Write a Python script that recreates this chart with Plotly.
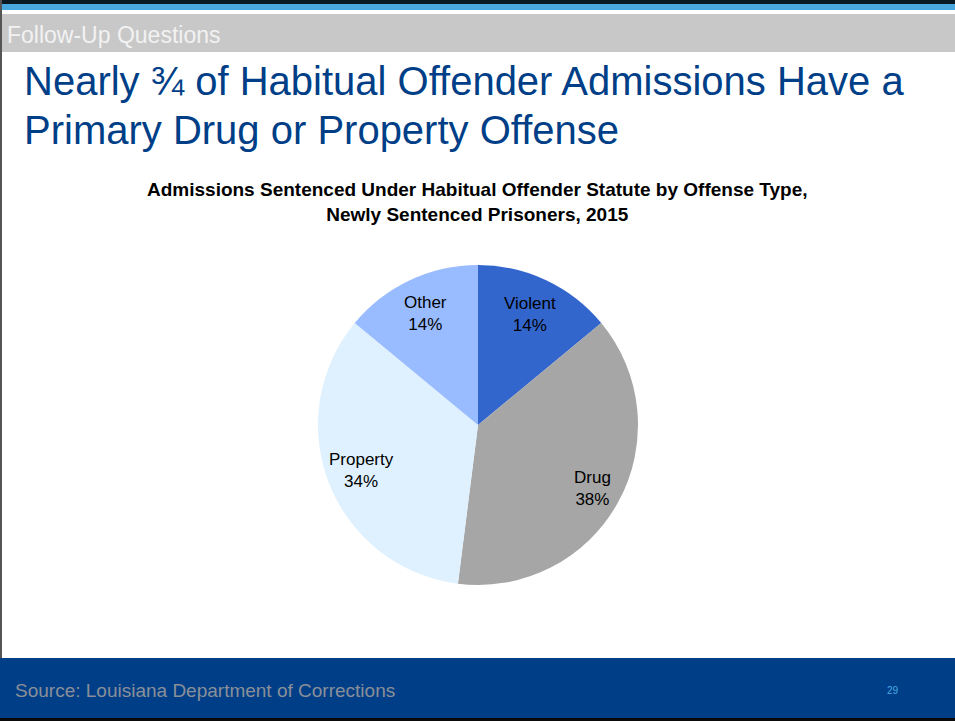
import math
import plotly.graph_objects as go

# Offense categories and their shares of habitual-offender admissions (percent)
categories = ["Violent", "Drug", "Property", "Other"]
shares = [14, 38, 34, 14]
slice_colors = ["#3366cc", "#a6a6a6", "#dff1fe", "#99bbff"]
# radial placement of each slice label, as a fraction of the radius
label_fracs = [0.76, 0.82, 0.78, 0.77]

W, H = 955, 721
NAVY = "#003f87"

# Pie geometry in pixels
cx, cy, r = 478, 425, 160

fig = go.Figure()
fig.add_trace(go.Pie(
    labels=categories,
    values=shares,
    sort=False,
    direction="clockwise",
    rotation=0,
    marker=dict(colors=slice_colors, line=dict(width=0)),
    textinfo="none",
    hoverinfo="label+percent",
    showlegend=False,
    domain=dict(x=[(cx - r) / W, (cx + r) / W],
                y=[1 - (cy + r) / H, 1 - (cy - r) / H]),
))

# Slice labels placed along each slice's mid-angle
total = sum(shares)
cum = 0
annotations = []
for name, v, frac in zip(categories, shares, label_fracs):
    mid = (cum + v / 2) / total * 2 * math.pi
    cum += v
    px = cx + frac * r * math.sin(mid)
    py = cy - frac * r * math.cos(mid)
    pct = round(v / total * 100)
    annotations.append(dict(
        x=px / W, y=1 - py / H, xref="paper", yref="paper",
        text=f"{name}<br>{pct}%", showarrow=False,
        font=dict(family="Liberation Sans, Arial", size=17, color="#000000"),
        align="center", xanchor="center", yanchor="middle",
    ))

def px_rect(x0, y0, x1, y1, color):
    return dict(type="rect", xref="paper", yref="paper",
                x0=x0 / W, x1=x1 / W, y0=1 - y1 / H, y1=1 - y0 / H,
                fillcolor=color, line=dict(width=0), layer="below")

shapes = [
    px_rect(0, 0, W, 4, "#0a1a24"),        # top dark rule
    px_rect(0, 4, W, 10, "#4aa8e0"),       # blue band
    px_rect(0, 14, W, 52, "#c8c8c8"),      # grey section header
    px_rect(0, 0, 2, 658, "#555555"),      # left border
    px_rect(0, 658, W, 718, NAVY),         # footer band
    px_rect(0, 718, W, H, "#0a0a0a"),      # bottom rule
]

def text_at(x, y, text, size, color, family, xanchor="left", yanchor="middle", align="left"):
    return dict(x=x / W, y=1 - y / H, xref="paper", yref="paper", text=text,
                showarrow=False, xanchor=xanchor, yanchor=yanchor, align=align,
                font=dict(family=family, size=size, color=color))

SANS = "Liberation Sans, Arial"
annotations += [
    text_at(5, 35, "Follow-Up Questions", 23, "#f2f2f2", SANS),
    text_at(22, 81, "Nearly ¾ of Habitual Offender Admissions Have a", 40, NAVY, SANS),
    text_at(22, 130, "Primary Drug or Property Offense", 40, NAVY, SANS),
    text_at(477, 202,
            "<b>Admissions Sentenced Under Habitual Offender Statute by Offense Type,</b>"
            "<br><b>Newly Sentenced Prisoners, 2015</b>",
            19, "#000000", SANS, xanchor="center", align="center"),
    text_at(13, 690, "Source: Louisiana Department of Corrections", 19, "#8a8f99", SANS),
    text_at(893, 690, "29", 10, "#4aa8e0", SANS, xanchor="center"),
]

fig.update_layout(
    width=W, height=H,
    margin=dict(l=0, r=0, t=0, b=0),
    paper_bgcolor="#ffffff",
    plot_bgcolor="#ffffff",
    shapes=shapes,
    annotations=annotations,
)

fig.write_html("out.html")
